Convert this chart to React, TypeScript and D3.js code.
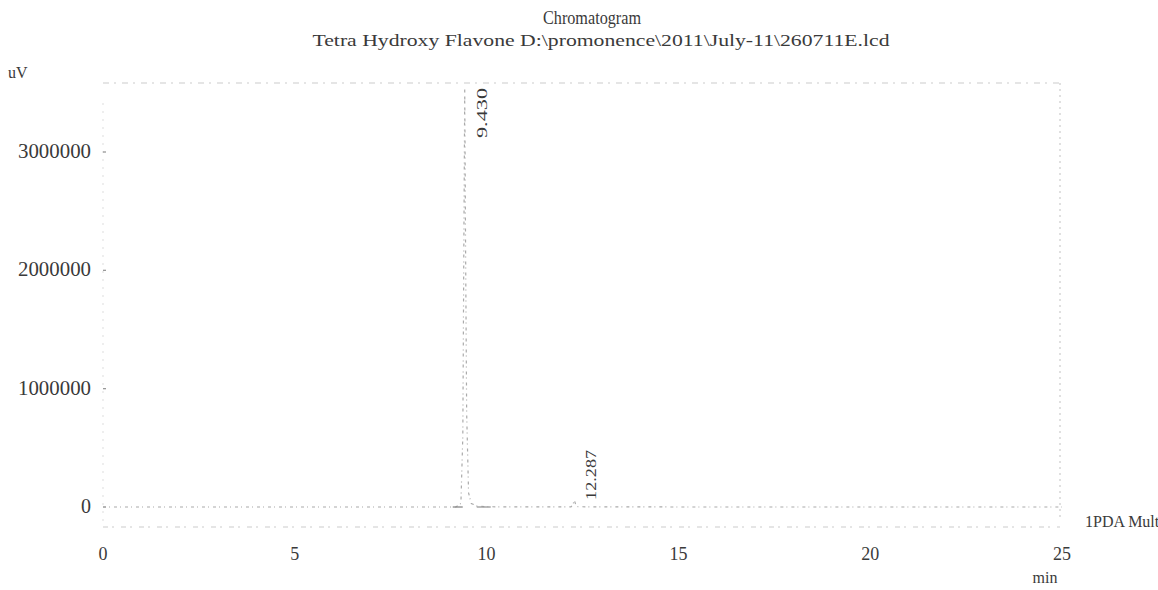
import React from "react";
import * as d3 from "d3";

const titleLines = ["Chromatogram", "Tetra Hydroxy Flavone D:\\promonence\\2011\\July-11\\260711E.lcd"];
const xTicks = [0, 5, 10, 15, 20, 25];
const yTicks = [0, 1000000, 2000000, 3000000];
const traceTime = [0, 3, 6, 9.2, 9.33, 9.38, 9.41, 9.43, 9.45, 9.48, 9.53, 9.6, 9.75, 10, 12.2, 12.25, 12.287, 12.32, 12.38, 15, 20, 25];
const traceValue = [0, 0, 0, 0, 30000, 600000, 2400000, 3560000, 2300000, 800000, 120000, 30000, 8000, 2000, 1000, 20000, 60000, 22000, 2000, 0, 0, 0];
const peakTimes = [9.43, 12.287];
const peakLabels = ["9.430", "12.287"];
const peakLabelValues = [3560000, 60000];

const W = 1158;
const H = 590;

export default function App() {
  const x = d3.scaleLinear().domain([0, 25]).range([103, 1062]);
  const y = d3.scaleLinear().domain([0, 3000000]).range([507, 152]);
  const yTop = 83;
  const data = traceTime.map((t, i) => [t, traceValue[i]] as [number, number]);
  const line = d3
    .line<[number, number]>()
    .x((d) => x(d[0]))
    .y((d) => Math.max(yTop + 6, y(d[1])));
  const serif = "'Liberation Serif', 'Times New Roman', serif";
  const textCol = "#3a3a3a";
  const frameCol = "#cccccc";
  return (
    <div style={{ position: "absolute", left: 0, top: 0, width: W, height: H, overflow: "hidden", background: "#fff" }}>
      <svg width={W} height={H} style={{ display: "block" }} fontFamily={serif}>
        <rect width={W} height={H} fill="#fff" />
        <text x={592} y={24} textAnchor="middle" fontSize={18} fill={textCol} textLength={98} lengthAdjust="spacingAndGlyphs">
          {titleLines[0]}
        </text>
        <text x={601} y={46} textAnchor="middle" fontSize={17.5} fill={textCol} textLength={577} lengthAdjust="spacingAndGlyphs">
          {titleLines[1]}
        </text>
        <text x={8} y={78} fontSize={16} fill={textCol}>uV</text>
        {/* frame */}
        <line x1={x(0)} x2={x(25) - 2} y1={yTop} y2={yTop} stroke={frameCol} strokeWidth={1.2} strokeDasharray="6 5 2 6" />
        <line x1={x(25) - 2} x2={x(25) - 2} y1={yTop} y2={520} stroke={frameCol} strokeWidth={1.2} strokeDasharray="2 4" />
        <line x1={x(0)} x2={x(0)} y1={yTop + 20} y2={527} stroke="#dddddd" strokeWidth={1} strokeDasharray="2 6" />
        <line x1={x(0)} x2={x(25) - 2} y1={527} y2={527} stroke={frameCol} strokeWidth={1.2} strokeDasharray="5 4 2 7" />
        {/* y ticks */}
        {yTicks.map((v) => (
          <g key={v}>
            <text x={91} y={y(v) + 6} textAnchor="end" fontSize={20} fill={textCol} textLength={v === 0 ? undefined : 73} lengthAdjust="spacingAndGlyphs">
              {String(v)}
            </text>
            <line x1={x(0)} x2={x(0) + 3} y1={y(v)} y2={y(v)} stroke="#999" strokeWidth={1.3} />
          </g>
        ))}
        {/* x ticks */}
        {xTicks.map((v) => (
          <text key={v} x={x(v)} y={560} textAnchor="middle" fontSize={18} fill={textCol}>
            {String(v)}
          </text>
        ))}
        <text x={1045} y={583} textAnchor="middle" fontSize={16} fill={textCol}>min</text>
        <text x={1085} y={527} fontSize={16} fill={textCol}>1PDA Multi 1</text>
        {/* trace */}
        <path d={line(data) || ""} fill="none" stroke="#aaaaaa" strokeWidth={1.2} strokeDasharray="3 3 1 4" />
        <line x1={x(9.43) - 12} x2={x(9.43) - 2} y1={y(0)} y2={y(0)} stroke="#888" strokeWidth={1.3} />
        <line x1={x(9.43) + 12} x2={x(9.43) + 26} y1={y(0)} y2={y(0)} stroke="#999" strokeWidth={1.3} />
        {/* peak labels */}
        {peakTimes.map((t, i) => {
          const px = x(t) + 22;
          const py = Math.max(yTop + 55, y(peakLabelValues[i]));
          return (
            <text key={t} transform={`translate(${px},${py}) rotate(-90)`} fontSize={14} fill={textCol} textLength={50} lengthAdjust="spacingAndGlyphs">
              {peakLabels[i]}
            </text>
          );
        })}
      </svg>
    </div>
  );
}
